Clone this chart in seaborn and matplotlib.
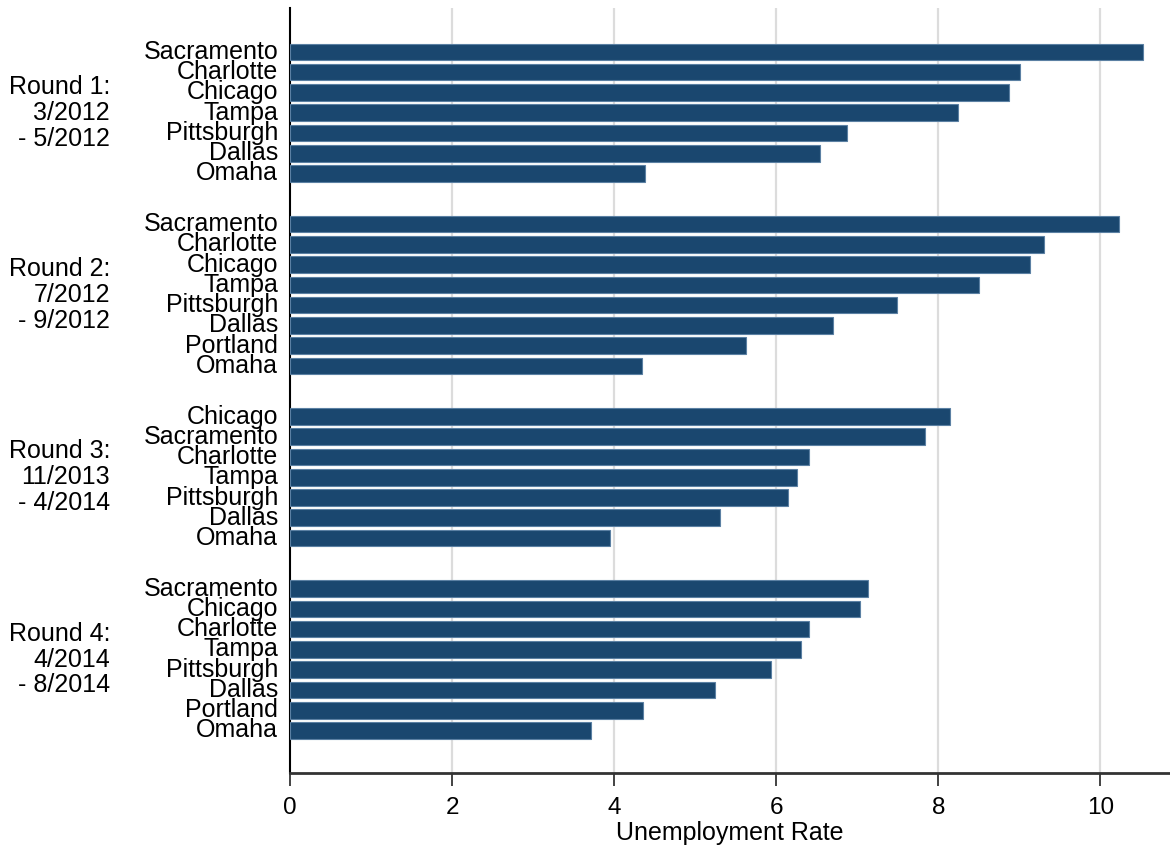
import matplotlib
matplotlib.use("Agg")
import matplotlib.pyplot as plt
import seaborn as sns
import pandas as pd
import numpy as np

# Unemployment rate by city, one list per survey round
round_labels = ["Round 1:\n3/2012\n- 5/2012",
                "Round 2:\n7/2012\n- 9/2012",
                "Round 3:\n11/2013\n- 4/2014",
                "Round 4:\n4/2014\n- 8/2014"]

r1_cities = ["Sacramento", "Charlotte", "Chicago", "Tampa", "Pittsburgh", "Dallas", "Omaha"]
r1_rates = [10.53, 9.01, 8.87, 8.24, 6.87, 6.54, 4.38]

r2_cities = ["Sacramento", "Charlotte", "Chicago", "Tampa", "Pittsburgh", "Dallas", "Portland", "Omaha"]
r2_rates = [10.23, 9.30, 9.13, 8.50, 7.49, 6.70, 5.63, 4.34]

r3_cities = ["Chicago", "Sacramento", "Charlotte", "Tampa", "Pittsburgh", "Dallas", "Omaha"]
r3_rates = [8.15, 7.84, 6.41, 6.26, 6.14, 5.31, 3.95]

r4_cities = ["Sacramento", "Chicago", "Charlotte", "Tampa", "Pittsburgh", "Dallas", "Portland", "Omaha"]
r4_rates = [7.13, 7.03, 6.41, 6.31, 5.93, 5.24, 4.36, 3.71]

rounds = [(r1_cities, r1_rates), (r2_cities, r2_rates),
          (r3_cities, r3_rates), (r4_cities, r4_rates)]

# Build long table with a y position per bar (gap between rounds)
rows = []
centers = []
pos = 0.0
for k, (cities, rates) in enumerate(rounds):
    start = pos
    for c, r in zip(cities, rates):
        rows.append({"round": k, "city": c, "rate": r, "pos": pos})
        pos += 1
    centers.append((start + pos - 1) / 2)
    pos += 1.5
df = pd.DataFrame(rows)

sns.set_style("white")
plt.rcParams["font.family"] = ["Liberation Sans", "DejaVu Sans"]
plt.rcParams["text.color"] = "black"
plt.rcParams["axes.labelcolor"] = "black"
plt.rcParams["xtick.color"] = "black"
plt.rcParams["ytick.color"] = "black"

fig = plt.figure(figsize=(11.7, 8.5), dpi=100)
ax = fig.add_axes([0.2479, 0.0906, 0.7521, 0.9])

sns.barplot(data=df, x="rate", y="pos", orient="h", native_scale=True,
            color="#1a476f", saturation=1, width=0.82, errorbar=None,
            edgecolor="#5b80a3", linewidth=0.8, ax=ax, zorder=3)

ax.set_xlim(0, 10.86)
ax.set_ylim(35.6, -2.17)

# vertical gridlines
for t in [2, 4, 6, 8, 10]:
    ax.axvline(t, color="#dcdcdc", linewidth=1.6, zorder=0)

ax.set_xticks([0, 2, 4, 6, 8, 10])
ax.set_xticklabels(["0", "2", "4", "6", "8", "10"])
ax.set_yticks(df["pos"])
ax.set_yticklabels(df["city"])
ax.tick_params(axis="y", left=False, length=0, pad=8.5, labelsize=18)
ax.tick_params(axis="x", bottom=True, length=9, width=1.2, color="#222222",
               pad=8, labelsize=17.5)
ax.set_xlabel("Unemployment Rate", fontsize=18, labelpad=2)
ax.set_ylabel("")

for lbl in ax.get_yticklabels():
    lbl.set_verticalalignment("center")

sns.despine(ax=ax, top=True, right=True)
ax.spines["left"].set_color("black")
ax.spines["left"].set_linewidth(1.5)
ax.spines["bottom"].set_color("#333333")
ax.spines["bottom"].set_linewidth(2)

for label, c in zip(round_labels, centers):
    ax.text(-0.2045, c, label, transform=ax.get_yaxis_transform(),
            ha="right", va="center", fontsize=18, linespacing=1.1)

fig.savefig("out.png", dpi=100)
